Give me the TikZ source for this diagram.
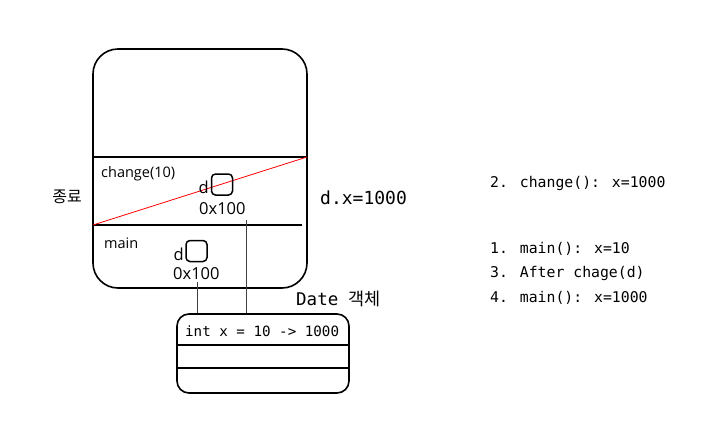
\documentclass[tikz,border=0pt]{standalone}
\usepackage{fontspec}
\setmainfont{Open Sans}
\newfontfamily\mono{DejaVu Sans Mono}
\newfontfamily\kr{Noto Sans CJK KR}
\begin{document}
\begin{tikzpicture}[x=1pt,y=-1pt,
  frame/.style={draw, line width=1.6pt, rounded corners=25pt, minimum width=214pt, minimum height=239pt, inner sep=0pt},
  objbox/.style={draw, line width=1.6pt, rounded corners=12pt, minimum width=172pt, minimum height=79pt, inner sep=0pt},
  sep/.style={line width=2.8pt},
  refbox/.style={draw, line width=1.5pt, rounded corners=4pt, minimum size=21pt, inner sep=0pt},
  hand/.style={font=\fontsize{14.5}{16}\selectfont, inner sep=0pt, anchor=west},
  handbig/.style={font=\fontsize{16.5}{18}\selectfont, inner sep=0pt, anchor=west},
  code/.style={font=\mono\fontsize{14.8}{18}\selectfont, inner sep=0pt, anchor=west},
  ptr/.style={line width=0.8pt, draw=black!75}]
\useasboundingbox (0,0) rectangle (715,442);
% stack frame
\node[frame] (stack) at (200,168.5) {};
\coordinate (s1l) at (94,157);
\coordinate (s1r) at (307,157);
\coordinate (s2l) at (93,225);
\coordinate (s2r) at (302,225);
\draw[sep] (s1l) -- (s1r);
\draw[sep] (s2l) -- (s2r);
\draw[red, line width=0.8pt] (s2l) -- (s1r);
% change frame
\node[hand] (chg) at (101,174) {change(10)};
\node[refbox] (dbox1) at (222,184.5) {};
\node[handbig, anchor=east] (d1) at (209,187) {d};
\node[handbig] (addr1) at (199,209) {0x100};
% main frame
\node[hand] (mainlbl) at (104,243) {main};
\node[refbox] (dbox2) at (196.5,251) {};
\node[handbig, anchor=east] (d2) at (184,254) {d};
\node[handbig] (addr2) at (173,274) {0x100};
% object
\node[objbox] (obj) at (263,353.5) {};
\coordinate (o1l) at (178,345);
\coordinate (o1r) at (349,345);
\coordinate (o2l) at (178,368);
\coordinate (o2r) at (349,368);
\draw[sep] (o1l) -- (o1r);
\draw[sep] (o2l) -- (o2r);
\node[code, font=\mono\fontsize{14.2}{16}\selectfont] (field) at (185,331) {int x = 10 -> 1000};
\node[code, font=\fontsize{17.5}{20}\selectfont] (objlbl) at (296,299) {{\mono Date\ }{\kr 객체}};
% pointers
\coordinate (p1) at (197,282);
\coordinate (p2) at (246,220);
\draw[ptr] (p1) -- (p1 |- obj.north);
\draw[ptr] (p2) -- (p2 |- obj.north);
% side labels
\node[inner sep=0pt, font=\kr\fontsize{16}{18}\selectfont] (done) at (67,197) {종료};
\node[code, font=\mono\fontsize{18}{20}\selectfont] (dx) at (320,198) {d.x=1000};
% notes
\node[code] (n2) at (490,183) {2. change(): x=1000};
\node[code] (n1) at (490,249) {1. main(): x=10};
\node[code] (n3) at (490,273) {3. After chage(d)};
\node[code] (n4) at (490,298) {4. main(): x=1000};
\end{tikzpicture}
\end{document}
